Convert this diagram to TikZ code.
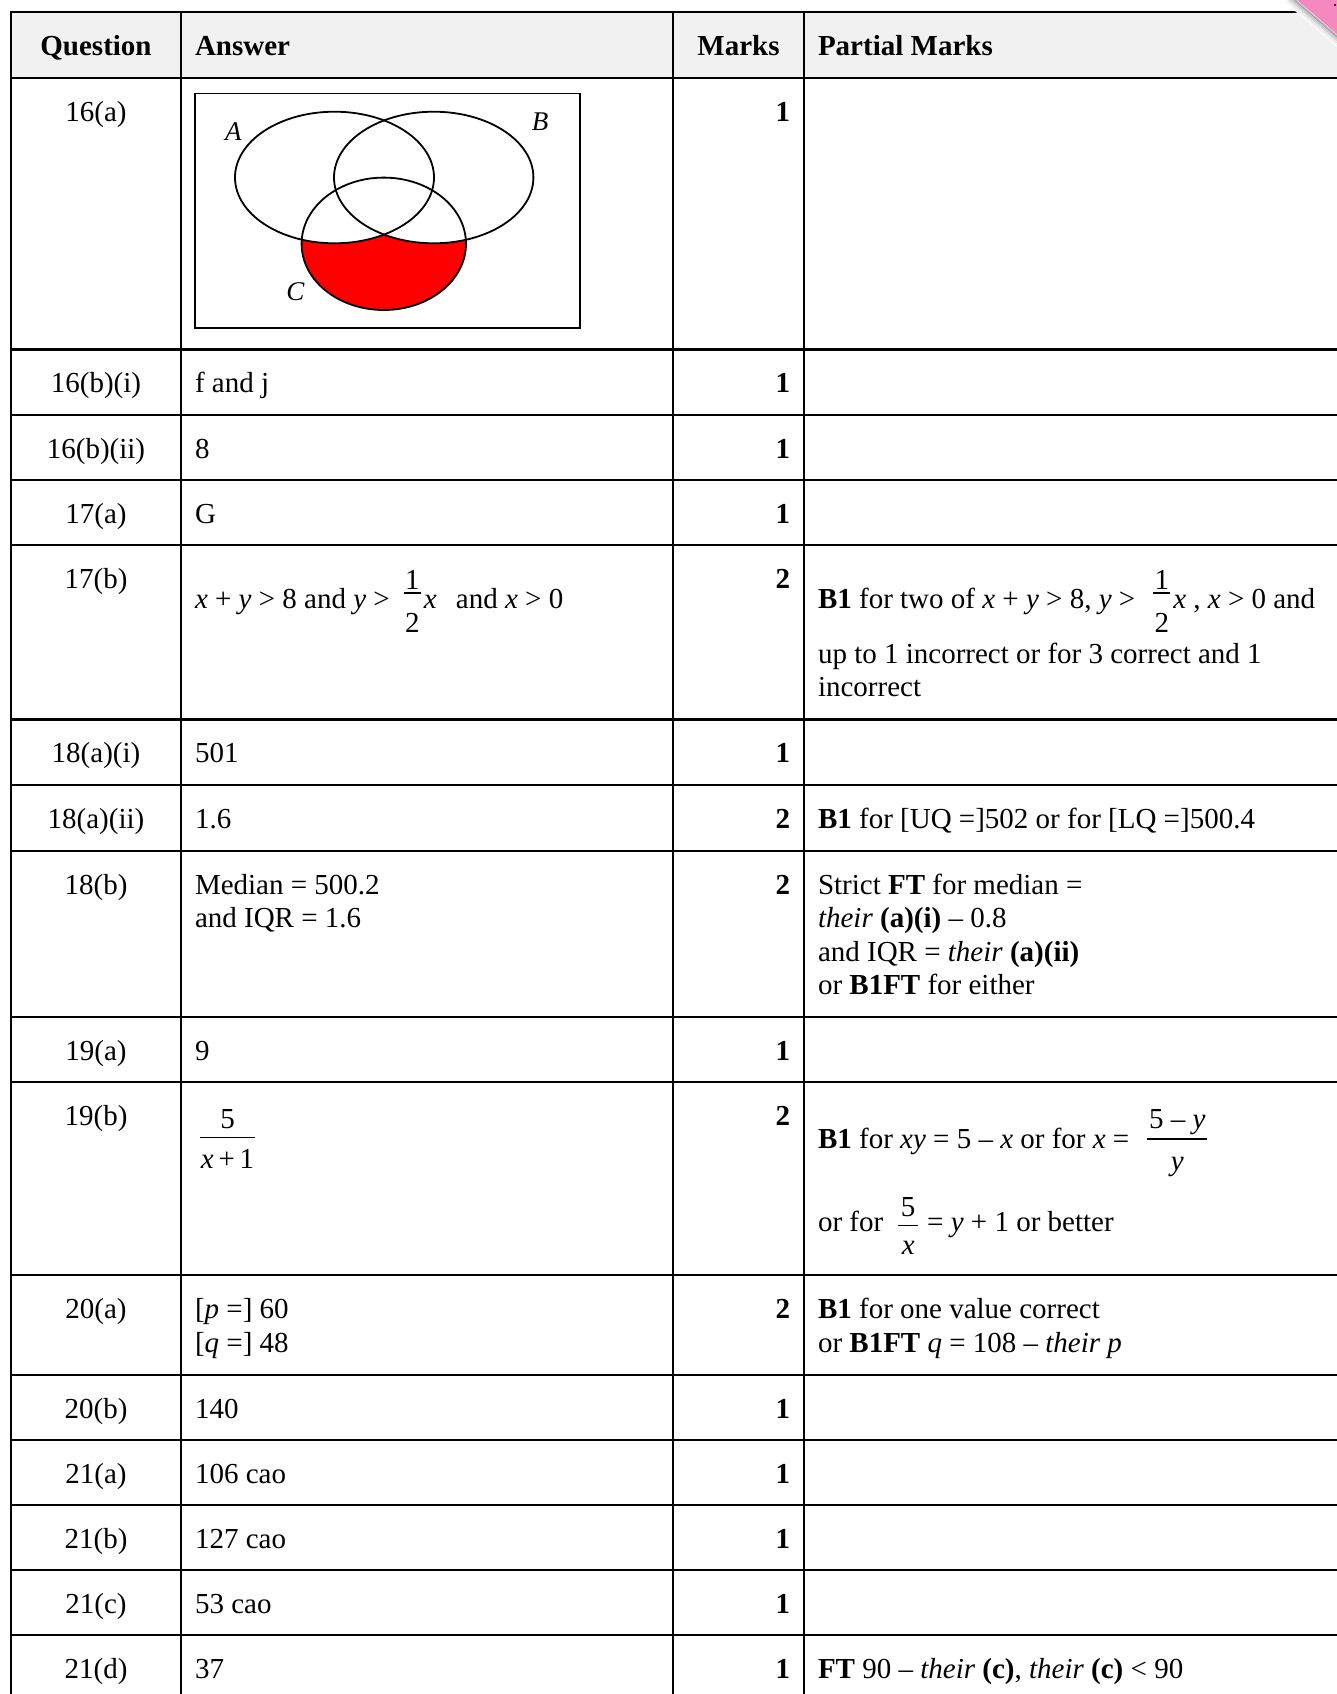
\documentclass[tikz,border=0pt]{standalone}
\usepackage{fontspec}
\setmainfont{Liberation Serif}
\definecolor{hdr}{RGB}{241,241,241}
\definecolor{pinkc}{RGB}{246,136,192}
\begin{document}
\begin{tikzpicture}[x=1pt,y=-1pt,
  T/.style={inner sep=0pt, outer sep=0pt, font=\fontsize{29}{33.5}\selectfont},
  L/.style={T, anchor=base west},
  C/.style={T, anchor=base},
  HB/.style={T, font=\fontsize{29}{33.5}\selectfont\bfseries},
  M/.style={T, anchor=base east, font=\fontsize{29}{33.5}\selectfont\bfseries},
  V/.style={T, anchor=center, font=\fontsize{27}{30}\selectfont\itshape},
  hline/.style={line width=2.4pt},
  vline/.style={line width=2pt},
  fbar/.style={line width=1.4pt},
  venn/.style={line width=1.8pt},
]
\useasboundingbox (0,0) rectangle (1337,1694);
\fill[white] (0,0) rectangle (1337,1694);
\fill[hdr] (11,12.3) rectangle (1337,77.7);

% table rules
\draw[line width=1.6pt] (10,12.3) -- (1337,12.3);
\foreach \y in {77.7,349.3,415,480,545,719.3,785.2,850.7,1017,1082.2,1275,1375,1440,1505,1570,1635}
  \draw[hline] (10,\y) -- (1337,\y);
\foreach \x in {11,181.2,672.8,804.4}
  \draw[vline] (\x,11.5) -- (\x,1694);

% header
\node[HB, anchor=base] (hq) at (96,55.5) {Question};
\node[HB, anchor=base west] (ha) at (195,55.5) {Answer};
\node[HB, anchor=base] (hm) at (738.5,55.5) {Marks};
\node[HB, anchor=base west] (hp) at (818,55.5) {Partial Marks};

% 16(a)
\node[C] (q1) at (96,121.2) {16(a)};
\node[M] (m1) at (790,121.2) {1};
\draw[line width=1.5pt] (195,93.5) rectangle (580,328);
\begin{scope}
  \clip (383.8,243.8) ellipse [x radius=82.2pt, y radius=66.2pt];
  \fill[red] (383.8,243.8) ellipse [x radius=82.2pt, y radius=66.2pt];
  \fill[white] (334.5,177.5) ellipse [x radius=99.5pt, y radius=65.8pt];
  \fill[white] (433.7,177.5) ellipse [x radius=99.7pt, y radius=65.8pt];
\end{scope}
\draw[venn] (334.5,177.5) ellipse [x radius=99.5pt, y radius=65.8pt];
\draw[venn] (433.7,177.5) ellipse [x radius=99.7pt, y radius=65.8pt];
\draw[venn] (383.8,243.8) ellipse [x radius=82.2pt, y radius=66.2pt];
\node[V] (vA) at (233.3,132) {A};
\node[V] (vB) at (540,122) {B};
\node[V] (vC) at (295.5,292) {C};

% 16(b)(i)
\node[C] (q2) at (96,392.8) {16(b)(i)};
\node[L] (a2) at (195,392.8) {f and j};
\node[M] (m2) at (790,392.8) {1};
% 16(b)(ii)
\node[C] (q3) at (96,458.5) {16(b)(ii)};
\node[L] (a3) at (195,458.5) {8};
\node[M] (m3) at (790,458.5) {1};
% 17(a)
\node[C] (q4) at (96,523.5) {17(a)};
\node[L] (a4) at (195,523.5) {G};
\node[M] (m4) at (790,523.5) {1};

% 17(b)
\node[C] (q5) at (96,588.5) {17(b)};
\node[M] (m5) at (790,588.5) {2};
\node[L] (a5a) at (195,608) {\textit{x} + \textit{y} > 8 and \textit{y} >};
\coordinate (a5f) at ([xshift=14pt]a5a.base east);
\draw[fbar] ([yshift=15pt]a5f) -- ([xshift=17pt,yshift=15pt]a5f);
\node[C] (a5n) at ([xshift=8.5pt,yshift=18.5pt]a5f) {1};
\node[C] (a5d) at ([xshift=8.5pt,yshift=-24pt]a5f) {2};
\node[L] (a5b) at ([xshift=20pt]a5f) {\textit{x}\hspace{12pt} and \textit{x} > 0};
\node[L] (p5a) at (818,608) {\textbf{B1} for two of \textit{x} + \textit{y} > 8, \textit{y} >};
\coordinate (p5f) at ([xshift=18pt]p5a.base east);
\draw[fbar] ([yshift=15pt]p5f) -- ([xshift=17pt,yshift=15pt]p5f);
\node[C] (p5n) at ([xshift=8.5pt,yshift=18.5pt]p5f) {1};
\node[C] (p5d) at ([xshift=8.5pt,yshift=-24pt]p5f) {2};
\node[L] (p5b) at ([xshift=20pt]p5f) {\textit{x} , \textit{x} > 0 and};
\node[L] (p5c) at (818,663) {up to 1 incorrect or for 3 correct and 1};
\node[L] (p5e) at (818,696.5) {incorrect};

% 18(a)(i)
\node[C] (q6) at (96,762.8) {18(a)(i)};
\node[L] (a6) at (195,762.8) {501};
\node[M] (m6) at (790,762.8) {1};
% 18(a)(ii)
\node[C] (q7) at (96,828.7) {18(a)(ii)};
\node[L] (a7) at (195,828.7) {1.6};
\node[M] (m7) at (790,828.7) {2};
\node[L] (p7) at (818,828.7) {\textbf{B1} for [UQ =]502 or for [LQ =]500.4};
% 18(b)
\node[C] (q8) at (96,894.2) {18(b)};
\node[L] (a8a) at (195,894.2) {Median = 500.2};
\node[L] (a8b) at (195,927.7) {and IQR = 1.6};
\node[M] (m8) at (790,894.2) {2};
\node[L] (p8a) at (818,894.2) {Strict \textbf{FT} for median =};
\node[L] (p8b) at (818,927.7) {\textit{their} \textbf{(a)(i)} – 0.8};
\node[L] (p8c) at (818,961.2) {and IQR = \textit{their} \textbf{(a)(ii)}};
\node[L] (p8d) at (818,994.7) {or \textbf{B1FT} for either};

% 19(a)
\node[C] (q9) at (96,1060.5) {19(a)};
\node[L] (a9) at (195,1060.5) {9};
\node[M] (m9) at (790,1060.5) {1};

% 19(b)
\node[C] (q10) at (96,1125.7) {19(b)};
\node[M] (m10) at (790,1125.7) {2};
\draw[fbar] (200,1137.7) -- (255,1137.7);
\node[C] (a10n) at (227.5,1128.5) {5};
\node[C] (a10d) at (227.5,1168.5) {\textit{x}\,+\,1};
\node[L] (p10a) at (818,1148) {\textbf{B1} for \textit{xy} = 5 – \textit{x} or for \textit{x} =};
\coordinate (p10f) at ([xshift=18pt]p10a.base east);
\draw[fbar] ([yshift=9pt]p10f) -- ([xshift=60pt,yshift=9pt]p10f);
\node[C] (p10n) at ([xshift=30pt,yshift=20pt]p10f) {5 – \textit{y}};
\node[C] (p10d) at ([xshift=30pt,yshift=-22pt]p10f) {\textit{y}};
\node[L] (p10b) at (818,1231.7) {or for};
\coordinate (p10g) at ([xshift=15pt]p10b.base east);
\draw[fbar] ([yshift=6.5pt]p10g) -- ([xshift=20pt,yshift=6.5pt]p10g);
\node[C] (p10gn) at ([xshift=10pt,yshift=15pt]p10g) {5};
\node[C] (p10gd) at ([xshift=10pt,yshift=-23pt]p10g) {\textit{x}};
\node[L] (p10c) at ([xshift=29pt]p10g) {= \textit{y} + 1 or better};

% 20(a)
\node[C] (q11) at (96,1318.5) {20(a)};
\node[L] (a11a) at (195,1318.5) {[\textit{p} =] 60};
\node[L] (a11b) at (195,1352) {[\textit{q} =] 48};
\node[M] (m11) at (790,1318.5) {2};
\node[L] (p11a) at (818,1318.5) {\textbf{B1} for one value correct};
\node[L] (p11b) at (818,1352) {or \textbf{B1FT} \textit{q} = 108 – \textit{their p}};

% 20(b) .. 21(d)
\node[C] (q12) at (96,1418.5) {20(b)};
\node[L] (a12) at (195,1418.5) {140};
\node[M] (m12) at (790,1418.5) {1};
\node[C] (q13) at (96,1483.5) {21(a)};
\node[L] (a13) at (195,1483.5) {106 cao};
\node[M] (m13) at (790,1483.5) {1};
\node[C] (q14) at (96,1548.5) {21(b)};
\node[L] (a14) at (195,1548.5) {127 cao};
\node[M] (m14) at (790,1548.5) {1};
\node[C] (q15) at (96,1613.5) {21(c)};
\node[L] (a15) at (195,1613.5) {53 cao};
\node[M] (m15) at (790,1613.5) {1};
\node[C] (q16) at (96,1678.5) {21(d)};
\node[L] (a16) at (195,1678.5) {37};
\node[M] (m16) at (790,1678.5) {1};
\node[L] (p16) at (818,1678.5) {\textbf{FT} 90 – \textit{their} \textbf{(c)}, \textit{their} \textbf{(c)} < 90};

% folded pink corner
\fill[white] (1280,-2) -- (1340,-2) -- (1340,50) -- cycle;
\foreach \d/\o in {1/0.30,2.5/0.22,4/0.15,5.5/0.09,7/0.05,8.5/0.025}
  \draw[black, opacity=\o, line width=1.6pt, shift={(-0.65*\d,0.75*\d)}] (1292,-4) -- (1343,40);
\fill[pinkc] (1296,-1) -- (1340,-1) -- (1340,37) -- cycle;
\fill[black] (1335,5) circle [radius=1.2pt];
\end{tikzpicture}
\end{document}
